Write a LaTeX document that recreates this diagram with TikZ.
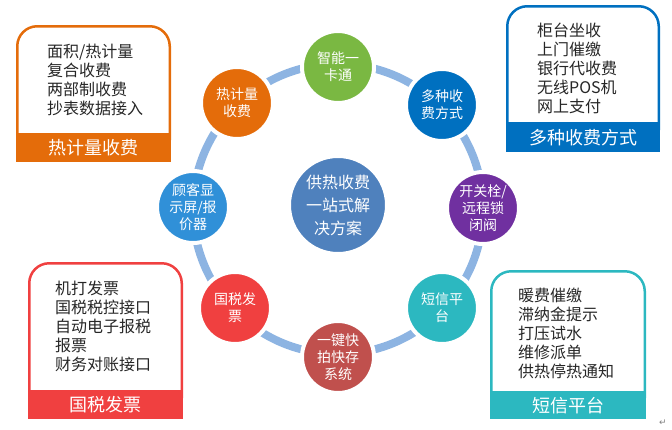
\documentclass[tikz,border=0pt]{standalone}
\usepackage{fontspec}
\newfontfamily\cjk{Noto Sans CJK SC}
\newfontfamily\symfont{DejaVu Sans}
\definecolor{ringblue}{RGB}{141,180,226}
\definecolor{hotorange}{RGB}{228,108,10}
\definecolor{payblue}{RGB}{0,112,192}
\definecolor{cardgreen}{RGB}{122,184,66}
\definecolor{valvepurple}{RGB}{112,48,160}
\definecolor{smsteal}{RGB}{44,184,192}
\definecolor{fastred}{RGB}{192,80,77}
\definecolor{taxred}{RGB}{240,64,64}
\definecolor{displayblue}{RGB}{48,144,216}
\definecolor{hubblue}{RGB}{79,129,189}
\definecolor{textgray}{RGB}{38,38,38}
\usetikzlibrary{positioning}

\begin{document}
\begin{tikzpicture}[x=1pt, y=-1pt,
    bubble/.style={circle, draw=white, line width=4pt, minimum size=72pt,
                   inner sep=0pt, align=center, text=white,
                   font=\cjk\fontsize{14}{17}\selectfont},
    hub/.style={circle, draw=white, line width=2pt, minimum size=96pt,
                inner sep=0pt, align=center, text=white, fill=hubblue,
                font=\cjk\fontsize{16}{23}\selectfont},
    frame/.style={line width=2.5pt, rounded corners=20pt},
    titlebar/.style={anchor=north west, inner sep=0pt, text=white,
                     font=\cjk\fontsize{18}{20}\selectfont},
    itemlist/.style={anchor=north west, inner sep=0pt, align=left, text=textgray,
                     font=\cjk\fontsize{16}{19}\selectfont}
  ]
    \useasboundingbox (0,0) rectangle (672,429);

    % Ring behind the bubbles
    \draw[ringblue, line width=8pt] (338,209) circle[radius=145pt];

    % Central solution
    \node[hub] (hub) at (338,205) {供热收费\\一站式解\\决方案};

    % Bubbles around the ring
    \node[bubble, fill=cardgreen]   (card)    at (338,67)  {智能一\\卡通};
    \node[bubble, fill=payblue]     (pay)     at (442,105) {多种收\\费方式};
    \node[bubble, fill=valvepurple] (valve)   at (483,208) {开关栓/\\远程锁\\闭阀};
    \node[bubble, fill=smsteal]     (sms)     at (442,308) {短信平\\台};
    \node[bubble, fill=fastred]     (fast)    at (338,357) {一键快\\拍快存\\系统};
    \node[bubble, fill=taxred]      (tax)     at (235,308) {国税发\\票};
    \node[bubble, fill=displayblue] (display) at (193,207) {顾客显\\示屏/报\\价器};
    \node[bubble, fill=hotorange]   (heat)    at (237,103) {热计量\\收费};

    % Heat metering box
    \draw[frame, hotorange] (17.25,140) -- (17.25,26.25) -- (169.75,26.25) -- (169.75,140);
    \node[titlebar, fill=hotorange, minimum width=155pt, minimum height=29pt] (heatTitle) at (16,133) {热计量收费};
    \node[itemlist] (heatList) at (47,44) {面积/热计量\\复合收费\\两部制收费\\抄表数据接入};

    % Payment box
    \draw[frame, payblue] (507.25,130) -- (507.25,6.25) -- (658.75,6.25) -- (658.75,130);
    \node[titlebar, fill=payblue, minimum width=154pt, minimum height=30pt] (payTitle) at (506,122) {多种收费方式};
    \node[itemlist] (payList) at (537,23) {柜台坐收\\上门催缴\\银行代收费\\无线POS机\\网上支付};

    % Tax invoice box
    \draw[frame, taxred] (29.25,398) -- (29.25,263.25) -- (181.75,263.25) -- (181.75,398);
    \node[titlebar, fill=taxred, minimum width=155pt, minimum height=29pt] (taxTitle) at (28,390) {国税发票};
    \node[itemlist] (taxList) at (55,281) {机打发票\\国税税控接口\\自动电子报税\\报票\\财务对账接口};

    % SMS box
    \draw[frame, smsteal] (491.25,398) -- (491.25,271.25) -- (644.75,271.25) -- (644.75,398);
    \node[titlebar, fill=smsteal, minimum width=156pt, minimum height=28pt] (smsTitle) at (490,391) {短信平台};
    \node[itemlist] (smsList) at (518,288) {暖费催缴\\滞纳金提示\\打压试水\\维修派单\\供热停热通知};

    % Paragraph mark
    \node[text=gray, font=\symfont\fontsize{9}{9}\selectfont] (mark) at (663,423) {↵};
  \end{tikzpicture}
\end{document}
